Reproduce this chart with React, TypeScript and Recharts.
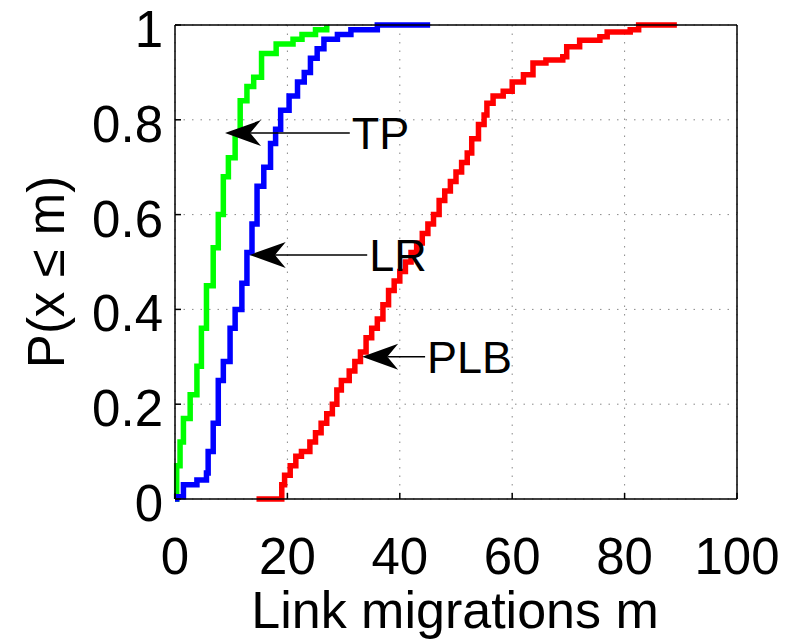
import { CartesianGrid, Line, LineChart, ReferenceLine, XAxis, YAxis } from "recharts";

// CDF points: [link migrations, P(x <= m)]
const TP_CDF = [
  [0, 0], [0.3, 0.07], [0.9, 0.12], [1.5, 0.17], [2.7, 0.22], [3.9, 0.28], [4.7, 0.36],
  [5.6, 0.45], [6.8, 0.53], [7.7, 0.6], [8.6, 0.68], [9.5, 0.72], [10.7, 0.77], [11.6, 0.84],
  [12.8, 0.87], [14, 0.89], [15.4, 0.94], [18, 0.96], [21, 0.97], [22.6, 0.98], [25, 0.99], [27, 1],
];

const LR_CDF = [
  [0, 0], [0.3, 0.005], [1.5, 0.03], [3.9, 0.04], [5.6, 0.055], [5.9, 0.1], [6.8, 0.16],
  [7.7, 0.25], [8.6, 0.29], [9.8, 0.36], [10.7, 0.4], [11.9, 0.455], [12.8, 0.52], [13.7, 0.58],
  [14.6, 0.66], [15.8, 0.7], [17, 0.75], [17.9, 0.78], [18.8, 0.82], [20.3, 0.85], [21.8, 0.88],
  [23, 0.9], [24.1, 0.93], [25.3, 0.95], [26.5, 0.97], [28.9, 0.98], [31.3, 0.99], [36, 1], [45.4, 1],
];

const PLB_CDF = [
  [14.5, 0], [19, 0.03], [19.5, 0.05], [20.5, 0.07], [21.5, 0.09], [22.5, 0.1], [24, 0.12],
  [25, 0.14], [26, 0.16], [27, 0.18], [28, 0.2], [28.8, 0.23], [29.6, 0.25], [31, 0.27],
  [32, 0.29], [33, 0.31], [34, 0.34], [35, 0.36], [36, 0.38], [37, 0.41], [38, 0.44],
  [39, 0.46], [40, 0.48], [41, 0.5], [42, 0.52], [43, 0.54], [44, 0.56], [45, 0.58],
  [46, 0.6], [47, 0.63], [48, 0.65], [49, 0.67], [50, 0.69], [51, 0.71], [52, 0.73],
  [52.8, 0.76], [54, 0.79], [55, 0.81], [55.5, 0.835], [56.6, 0.85], [58.4, 0.86], [60, 0.88],
  [62, 0.895], [63.7, 0.92], [66, 0.926], [69, 0.933], [69.7, 0.954], [72, 0.968], [75.6, 0.975],
  [76.9, 0.985], [81, 0.99], [82.5, 1], [89.3, 1],
];

const X_TICKS = [0, 20, 40, 60, 80, 100];
const Y_TICKS = [0, 0.2, 0.4, 0.6, 0.8, 1];

// arrow annotations: label, arrow tip (x, y), tail x where the label starts
const ANNOTATIONS = [
  { text: "TP", tipX: 8.9, y: 0.772, tailX: 31.1 },
  { text: "LR", tipX: 13.3, y: 0.515, tailX: 34.2 },
  { text: "PLB", tipX: 33.3, y: 0.3, tailX: 44.5 },
];

const FONT = "'Liberation Sans', Arial, Helvetica, sans-serif";

const toPoints = (pairs: number[][]) => pairs.map(([x, y]) => ({ x, y }));

const series = [
  { name: "TP", color: "#00ff00", data: toPoints(TP_CDF) },
  { name: "LR", color: "#0000ff", data: toPoints(LR_CDF) },
  { name: "PLB", color: "#ff0000", data: toPoints(PLB_CDF) },
];

const BottomTick = ({ x, y, payload }: any) => (
  <g>
    <line x1={x} x2={x} y1={y} y2={y - 6} stroke="#000" strokeWidth={1.5} />
    <text x={x} y={y + 75} textAnchor="middle" fontSize={51} fontFamily={FONT} fill="#000">
      {String(payload.value)}
    </text>
  </g>
);

const LeftTick = ({ x, y, payload }: any) => (
  <g>
    <line x1={x} x2={x + 6} y1={y} y2={y} stroke="#000" strokeWidth={1.5} />
    <text x={x - 12} y={y + 22} textAnchor="end" fontSize={51} fontFamily={FONT} fill="#000">
      {String(payload.value)}
    </text>
  </g>
);

const TopTick = ({ x, y }: any) => (
  <line x1={x} x2={x} y1={y} y2={y + 6} stroke="#000" strokeWidth={1.5} />
);

const RightTick = ({ x, y }: any) => (
  <line x1={x} x2={x - 6} y1={y} y2={y} stroke="#000" strokeWidth={1.5} />
);

const arrowShape = (text: string) => (props: any) => {
  const { x1, y1, x2, y2 } = props;
  // x1,y1 = tail, x2,y2 = tip
  const len = Math.hypot(x1 - x2, y1 - y2) || 1;
  const dx = (x1 - x2) / len;
  const dy = (y1 - y2) / len;
  const L = 36;
  const W = 13;
  const head = [
    [x2, y2],
    [x2 + dx * L - dy * W, y2 + dy * L + dx * W],
    [x2 + dx * L * 0.7, y2 + dy * L * 0.7],
    [x2 + dx * L + dy * W, y2 + dy * L - dx * W],
  ]
    .map((p) => p.join(","))
    .join(" ");
  return (
    <g>
      <line x1={x1} y1={y1} x2={x2 + dx * L * 0.7} y2={y2 + dy * L * 0.7} stroke="#000" strokeWidth={1.5} />
      <polygon points={head} fill="#000" />
      <text x={x1 + 2} y={y1 + 16} fontSize={45} fontFamily={FONT} fill="#000">
        {text}
      </text>
    </g>
  );
};

export default function App() {
  return (
    <div style={{ position: "absolute", left: 0, top: 0, background: "#fff" }}>
      <LineChart width={792} height={639} margin={{ top: 24, right: 54, bottom: 80, left: 95 }}>
        <CartesianGrid stroke="#888" strokeDasharray="1.5 7" />
        <XAxis
          dataKey="x"
          type="number"
          domain={[0, 100]}
          ticks={X_TICKS}
          interval={0}
          height={60}
          tickSize={0}
          tickMargin={0}
          tick={BottomTick}
          axisLine={{ stroke: "#000", strokeWidth: 1.5 }}
          label={{
            content: ({ viewBox }: any) => (
              <text
                x={viewBox.x + viewBox.width / 2 - 1}
                y={viewBox.y + 129}
                textAnchor="middle"
                fontSize={52}
                fontFamily={FONT}
                fill="#000"
              >
                Link migrations m
              </text>
            ),
          }}
        />
        <XAxis
          xAxisId="top"
          orientation="top"
          type="number"
          domain={[0, 100]}
          ticks={X_TICKS}
          interval={0}
          height={1}
          tickSize={0}
          tickMargin={0}
          tick={TopTick}
          axisLine={{ stroke: "#000", strokeWidth: 1.5 }}
        />
        <YAxis
          type="number"
          domain={[0, 1]}
          ticks={Y_TICKS}
          interval={0}
          width={80}
          tickSize={0}
          tickMargin={0}
          tick={LeftTick}
          axisLine={{ stroke: "#000", strokeWidth: 1.5 }}
          label={{
            content: ({ viewBox }: any) => {
              const cx = viewBox.x - 31;
              const cy = viewBox.y + viewBox.height / 2 + 10;
              return (
                <text
                  x={cx}
                  y={cy}
                  transform={`rotate(-90, ${cx}, ${cy})`}
                  textAnchor="middle"
                  fontSize={51}
                  fontFamily={FONT}
                  fill="#000"
                >
                  P(x ≤ m)
                </text>
              );
            },
          }}
        />
        <YAxis
          yAxisId="right"
          orientation="right"
          type="number"
          domain={[0, 1]}
          ticks={Y_TICKS}
          interval={0}
          width={1}
          tickSize={0}
          tickMargin={0}
          tick={RightTick}
          axisLine={{ stroke: "#000", strokeWidth: 1.5 }}
        />
        {series.map((s) => (
          <Line
            key={s.name}
            data={s.data}
            dataKey="y"
            type="stepAfter"
            stroke={s.color}
            strokeWidth={5.5}
            dot={false}
            activeDot={false}
            isAnimationActive={false}
          />
        ))}
        {ANNOTATIONS.map((a) => (
          <ReferenceLine
            key={a.text}
            segment={[
              { x: a.tailX, y: a.y },
              { x: a.tipX, y: a.y },
            ]}
            shape={arrowShape(a.text)}
          />
        ))}
      </LineChart>
    </div>
  );
}
